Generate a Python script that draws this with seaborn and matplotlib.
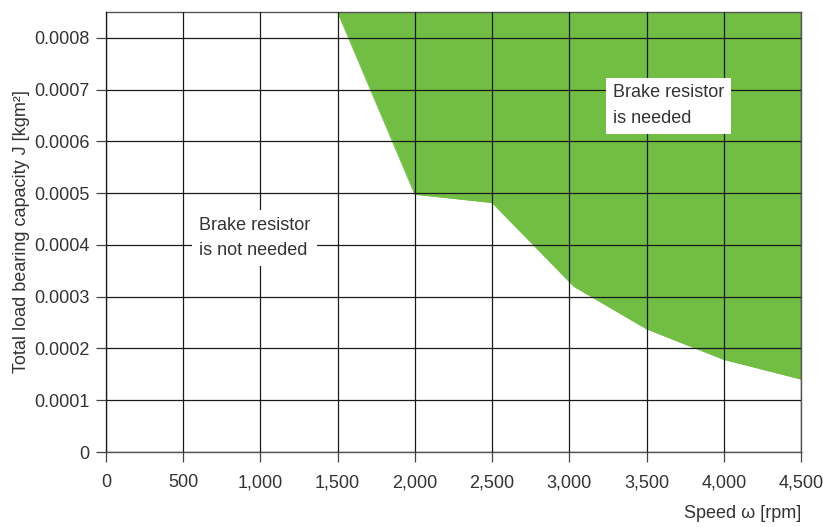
import matplotlib
matplotlib.use("Agg")
import matplotlib.pyplot as plt
import seaborn as sns
import pandas as pd
from matplotlib import font_manager

speed_rpm = [1500, 2000, 2500, 3030, 3500, 4000, 4500]
inertia_limit = [0.00085, 0.000498, 0.000482, 0.00032, 0.000238, 0.000179, 0.000141]
x_ticks = [0, 500, 1000, 1500, 2000, 2500, 3000, 3500, 4000, 4500]
x_tick_labels = ["0", "500", "1,000", "1,500", "2,000", "2,500", "3,000", "3,500", "4,000", "4,500"]
y_ticks = [0, 0.0001, 0.0002, 0.0003, 0.0004, 0.0005, 0.0006, 0.0007, 0.0008]
y_tick_labels = ["0", "0.0001", "0.0002", "0.0003", "0.0004", "0.0005", "0.0006", "0.0007", "0.0008"]

sns.set_theme(style="white")
names = {f.name for f in font_manager.fontManager.ttflist}
fam = ["Liberation Sans Narrow", "DejaVu Sans"] if "Liberation Sans Narrow" in names else ["Liberation Sans", "DejaVu Sans"]
plt.rcParams["font.family"] = fam

GREEN = "#72BE45"
TXT = "#333333"

df = pd.DataFrame({"speed": speed_rpm, "J": inertia_limit})

fig = plt.figure(figsize=(8.23, 5.27), dpi=100)
ax = fig.add_axes([0.1288, 0.1423, 0.8445, 0.8349])

ymax = 0.00085
ax.fill_between(df["speed"], df["J"], ymax, color=GREEN, linewidth=0, zorder=1)
sns.lineplot(data=df, x="speed", y="J", color=GREEN, linewidth=0.8, ax=ax, zorder=1)

ax.set_xlim(0, 4500)
ax.set_ylim(0, ymax)
ax.set_xticks(x_ticks)
ax.set_xticklabels(x_tick_labels)
ax.set_yticks(y_ticks)
ax.set_yticklabels(y_tick_labels)

ax.grid(True, color="#1a1a1a", linewidth=0.9, zorder=2)
ax.set_axisbelow(False)
for s in ax.spines.values():
    s.set_color("#555555")
    s.set_linewidth(1.0)
    s.set_visible(True)

ax.tick_params(axis="both", which="major", length=7, width=0.9, color="#444444",
               labelsize=13, labelcolor=TXT, direction="out", pad=5,
               bottom=True, left=True, top=False, right=False)
ax.tick_params(axis="x", pad=9)

ax.set_xlabel("Speed ω [rpm]", fontsize=13, color=TXT)
ax.xaxis.set_label_coords(1.0, -0.12)
ax.xaxis.label.set_horizontalalignment("right")
ax.set_ylabel("Total load bearing capacity J [kgm²]", fontsize=13, color=TXT)
ax.yaxis.set_label_coords(-0.11, 0.5)

ax.text(3283, 0.000628, "Brake resistor\nis needed", fontsize=13, color=TXT,
        ha="left", va="bottom", linespacing=1.65, zorder=5,
        bbox=dict(facecolor="white", edgecolor="none", pad=5))
ax.text(600, 0.000372, "Brake resistor\nis not needed", fontsize=13, color=TXT,
        ha="left", va="bottom", linespacing=1.65, zorder=5,
        bbox=dict(facecolor="white", edgecolor="none", pad=5))

fig.savefig("out.png", dpi=100)
